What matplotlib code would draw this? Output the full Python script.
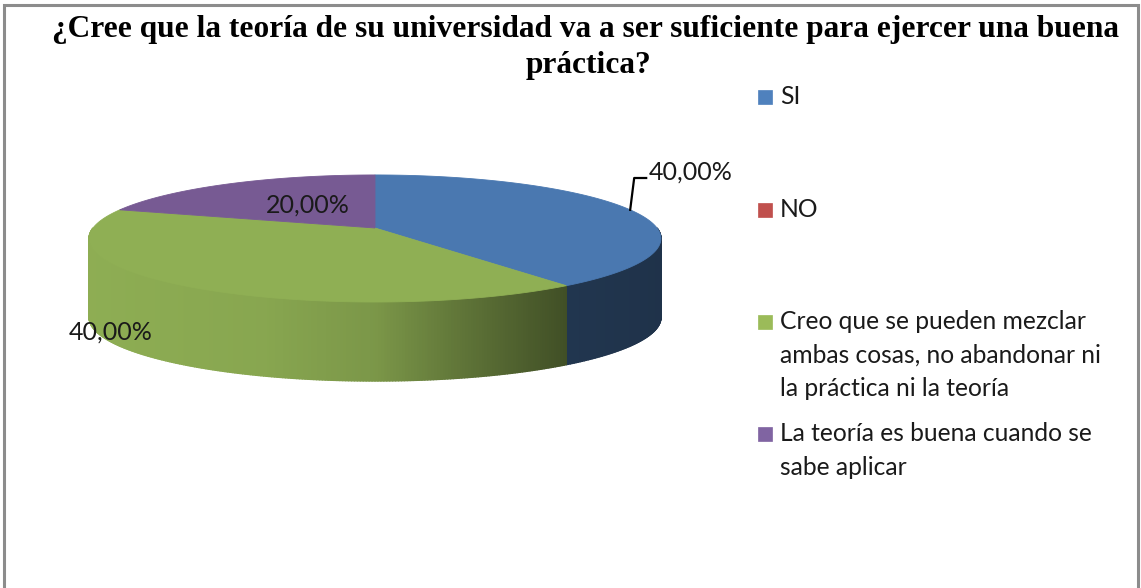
import numpy as np
import matplotlib
matplotlib.use("Agg")
import matplotlib.pyplot as plt
from matplotlib.collections import PolyCollection
from matplotlib.patches import Polygon, Rectangle
from matplotlib.lines import Line2D
from matplotlib.colors import to_rgb

# ---------------- data ----------------
title = ("¿Cree que la teoría de su universidad va a ser suficiente para ejercer una buena\n"
         "práctica?")
categories = ["SI", "NO",
              "Creo que se pueden mezclar\nambas cosas, no abandonar ni\nla práctica ni la teoría",
              "La teoría es buena cuando se\nsabe aplicar"]
values = [40.0, 0.0, 40.0, 20.0]
top_colors = ["#4A78B0", "#BE4B48", "#8FAF54", "#775A93"]
legend_colors = ["#4F81BD", "#C0504D", "#9BBB59", "#8064A2"]

W, H = 1141, 588
fig = plt.figure(figsize=(W / 100, H / 100), dpi=100)
ax = fig.add_axes([0, 0, 1, 1])
ax.set_xlim(0, W)
ax.set_ylim(H, 0)
ax.axis("off")

# ---------------- 3D pie geometry ----------------
cx, cy = 375.0, 228.0
A, B, P, D = 282.0, 61.8, 0.165, 79.0


def proj(theta_deg):
    t = np.radians(theta_deg)
    w = 1 + P * np.sin(t)
    return cx + A * np.cos(t) / w, cy - B * np.sin(t) / w


def shade(u):
    return np.interp(u, [-1.0, -0.4, 0.0, 0.35, 0.68, 1.0],
                     [0.99, 0.95, 0.86, 0.64, 0.45, 0.42])


total = sum(values)
angles = []
start = 90.0
for v in values:
    sweep = 360.0 * v / total
    angles.append((start, start - sweep))
    start -= sweep

# sides
side_polys, side_cols = [], []
for (a0, a1), col in zip(angles, top_colors):
    if a0 == a1:
        continue
    n = max(int(abs(a0 - a1) / 0.5), 2)
    ts = np.linspace(a0, a1, n + 1)
    base = np.array(to_rgb(col))
    for t1, t2 in zip(ts[:-1], ts[1:]):
        tm = 0.5 * (t1 + t2)
        if np.sin(np.radians(tm)) >= 0:
            continue
        x1, y1 = proj(t1)
        x2, y2 = proj(t2)
        side_polys.append([(x1, y1), (x2, y2), (x2, y2 + D), (x1, y1 + D)])
        u = (0.5 * (x1 + x2) - cx) / A
        side_cols.append(np.clip(base * shade(u), 0, 1))
ax.add_collection(PolyCollection(side_polys, facecolors=side_cols,
                                 edgecolors=side_cols, linewidths=1.0,
                                 antialiased=True, zorder=2))

# tops
for (a0, a1), col in zip(angles, top_colors):
    if a0 == a1:
        continue
    ts = np.linspace(a0, a1, 200)
    xs, ys = proj(ts)
    pts = [(cx, cy)] + list(zip(xs, ys))
    ax.add_patch(Polygon(pts, closed=True, facecolor=col, edgecolor=col,
                         linewidth=0.6, zorder=3))

# ---------------- data labels ----------------
lab_font = dict(family=["Lato", "DejaVu Sans"], fontsize=18, color="#1a1a1a")


def fmt(v):
    return f"{v:.2f}%".replace(".", ",")


# SI label with leader
mid = 0.5 * (angles[0][0] + angles[0][1])
sx, sy = proj(mid)
ax.add_line(Line2D([sx, sx + 4, sx + 16], [sy, 178, 178], color="black",
                   lw=1.6, zorder=5))
ax.text(sx + 19, 172, fmt(values[0]), ha="left", va="center", zorder=6, **lab_font)
# purple inside
ax.text(308, 205, fmt(values[3]), ha="center", va="center", zorder=6, **lab_font)
# green outside
ax.text(111, 332, fmt(values[2]), ha="center", va="center", zorder=6, **lab_font)

# ---------------- legend ----------------
leg_font = dict(family=["Lato", "DejaVu Sans"], fontsize=17.7, color="#1a1a1a",
                linespacing=1.56)
leg_y = [97, 210, 322, 434]
for y, lab, col in zip(leg_y, categories, legend_colors):
    ax.add_patch(Rectangle((758, y - 7), 14, 14, facecolor=col, edgecolor=col,
                           lw=0.5, zorder=5))
    ax.text(780, y - 12, lab, ha="left", va="top", zorder=6, **leg_font)

# ---------------- title ----------------
tfont = dict(family=["Liberation Serif", "DejaVu Serif"], fontweight="bold",
             fontsize=22.6, color="black")
ax.text(585, 29, title.split("\n")[0], ha="center", va="center", **tfont)
ax.text(589, 66, title.split("\n")[1], ha="center", va="center", **tfont)

# ---------------- frame ----------------
ax.add_line(Line2D([4, 4, 1138, 1138], [H, 5, 5, H], color="#8C8C8C", lw=2.2,
                   solid_joinstyle="miter", zorder=10))

fig.savefig("out.png", dpi=100)
